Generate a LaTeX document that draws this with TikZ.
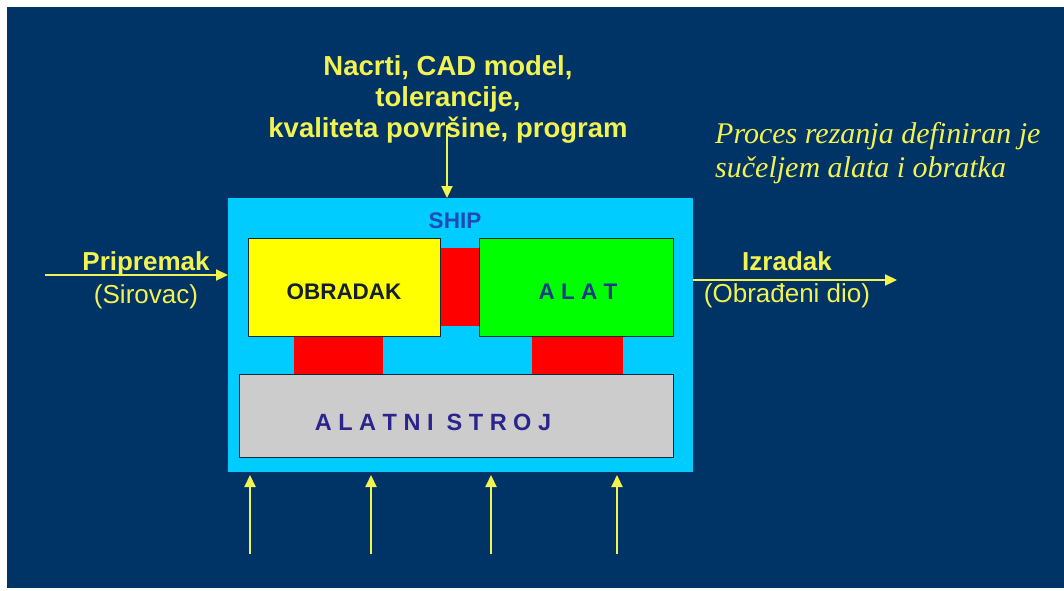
\documentclass[tikz,border=0pt]{standalone}
\usepackage{fontspec}
\setmainfont{Liberation Sans}
\newfontfamily\tmsfam{Liberation Serif}
\usetikzlibrary{arrows.meta}
\definecolor{bg}{RGB}{0,51,102}
\definecolor{shipc}{RGB}{0,204,255}
\definecolor{yel}{RGB}{255,255,0}
\definecolor{grn}{RGB}{0,255,0}
\definecolor{redc}{RGB}{255,0,0}
\definecolor{gry}{RGB}{204,204,204}
\definecolor{txty}{RGB}{242,242,80}
\definecolor{shipt}{RGB}{30,75,180}
\definecolor{alatt}{RGB}{26,58,138}
\definecolor{strojt}{RGB}{42,36,140}
\definecolor{obrt}{RGB}{20,30,50}
\definecolor{edge}{RGB}{20,40,60}
\tikzset{
  box/.style={rectangle, inner sep=0pt, outer sep=0pt},
  framed/.style={box, draw=edge, line width=0.9pt},
  arr/.style={draw=txty, line width=2.2pt, -{Triangle[length=12pt,width=11pt]}},
  lbl/.style={inner sep=0pt, outer sep=0pt, anchor=base},
  bigb/.style={font=\fontsize{26}{31}\selectfont\bfseries, text=txty},
  bigr/.style={font=\fontsize{26}{31}\selectfont, text=txty},
  inb/.style={font=\fontsize{22.5}{27}\selectfont\bfseries}
}
\begin{document}
\begin{tikzpicture}[x=1pt,y=-1pt]
\useasboundingbox (0,0) rectangle (1064,590);
\fill[white] (0,0) rectangle (1064,590);
\fill[bg] (7,7) rectangle (1064,588);

% SHIP frame
\node[box, fill=shipc, minimum width=465pt, minimum height=274pt] (ship) at (460.5,335) {};
% red interface blocks
\node[box, fill=redc, minimum width=39pt, minimum height=78pt] (redM) at (459.5,287) {};
\node[box, fill=redc, minimum width=89pt, minimum height=40pt] (redL) at (338.5,355) {};
\node[box, fill=redc, minimum width=91pt, minimum height=40pt] (redR) at (577.5,355) {};
% main blocks
\node[framed, fill=yel, minimum width=192pt, minimum height=98pt] (obr) at (344,287) {};
\node[framed, fill=grn, minimum width=194pt, minimum height=98pt] (alat) at (576,287) {};
\node[framed, fill=gry, minimum width=434pt, minimum height=83pt] (stroj) at (456,415.5) {};

% inner labels
\node[lbl, inb, text=shipt] (shipl) at (455,228) {SHIP};
\node[lbl, inb, text=obrt] (obrl) at (344,299) {OBRADAK};
\node[lbl, inb, text=alatt] (alatl) at (578,299) {A L A T};
\node[lbl, font=\fontsize{23.5}{28}\selectfont\bfseries, text=strojt] (strojl) at (433,430) {A L A T N I\hspace{13pt}S T R O J};

% top input
\node[inner sep=0pt, anchor=north, align=center, font=\fontsize{27.5}{31}\selectfont\bfseries, text=txty] (top) at (448,55)
  {Nacrti, CAD model,\\tolerancije,\\kvaliteta površine, program};
\coordinate (topS) at (447,125);
\draw[arr] (topS) -- (topS |- ship.north);

% left input
\node[lbl, bigb] (prip) at (146,270) {Pripremak};
\node[lbl, bigr] (sir) at (146,303) {(Sirovac)};
\coordinate (inL) at (45,275);
\draw[arr] (inL) -- (inL -| ship.west);

% right output
\node[lbl, bigb] (izr) at (787,270) {Izradak};
\node[lbl, bigr] (obrd) at (787,302) {(Obrađeni dio)};
\coordinate (outR) at (897,280);
\draw[arr] (outR -| ship.east) -- (outR);

% italic note
\node[inner sep=0pt, anchor=north west, align=left, font=\fontsize{30}{34}\selectfont\tmsfam\itshape, text=txty] (note) at (715,122.5)
  {Proces rezanja definiran je\\sučeljem alata i obratka};

% bottom inputs
\foreach \xx/\nm in {250/b1, 371/b2, 491/b3, 617/b4}{
  \coordinate (\nm) at (\xx,554);
  \draw[arr, shorten >=3pt] (\nm) -- (\nm |- ship.south);
}
\end{tikzpicture}
\end{document}
